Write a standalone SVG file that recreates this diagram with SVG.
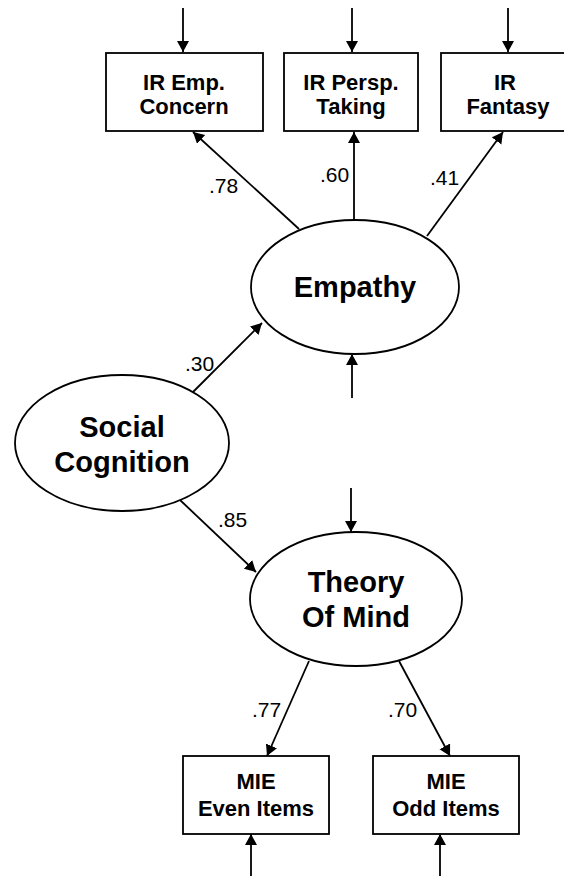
<svg xmlns="http://www.w3.org/2000/svg" width="564" height="876" viewBox="0 0 564 876">
<style>
.box{fill:#fff;stroke:#000;stroke-width:1.8}
.ell{fill:#fff;stroke:#000;stroke-width:1.8}
.bt{font-family:"Liberation Sans",Arial,sans-serif;font-weight:bold;font-size:22px;text-anchor:middle;fill:#000}
.et{font-family:"Liberation Sans",Arial,sans-serif;font-weight:bold;font-size:29px;text-anchor:middle;fill:#000}
.lb{font-family:"Liberation Sans",Arial,sans-serif;font-size:21px;fill:#000}
.ln{stroke:#000;stroke-width:1.8;fill:none;marker-end:url(#ah)}
</style>
<defs>
<marker id="ah" markerUnits="userSpaceOnUse" markerWidth="13" markerHeight="13" refX="11" refY="6" orient="auto">
<path d="M0,0 L11,6 L0,12 z" fill="#000"/>
</marker>
</defs>
<rect width="564" height="876" fill="#fff"/>
<g id="connectors">
<line class="ln" x1="183" y1="8" x2="183" y2="52"/>
<line class="ln" x1="352" y1="8" x2="352" y2="52"/>
<line class="ln" x1="508" y1="8" x2="508" y2="52"/>
<line class="ln" x1="299" y1="229" x2="193" y2="132"/>
<line class="ln" x1="354" y1="220" x2="354" y2="132"/>
<line class="ln" x1="427" y1="236" x2="503" y2="132"/>
<line class="ln" x1="352" y1="398" x2="352" y2="354"/>
<line class="ln" x1="193" y1="392" x2="262" y2="323"/>
<line class="ln" x1="180" y1="500" x2="256" y2="572"/>
<line class="ln" x1="351" y1="488" x2="351" y2="532"/>
<line class="ln" x1="309" y1="661" x2="267" y2="756"/>
<line class="ln" x1="399" y1="661" x2="450" y2="756"/>
<line class="ln" x1="251" y1="876" x2="251" y2="834"/>
<line class="ln" x1="440" y1="876" x2="440" y2="834"/>
<text class="lb" x="209" y="193">.78</text>
<text class="lb" x="320" y="182">.60</text>
<text class="lb" x="430" y="185">.41</text>
<text class="lb" x="185" y="371">.30</text>
<text class="lb" x="218" y="527">.85</text>
<text class="lb" x="252" y="717">.77</text>
<text class="lb" x="388" y="717">.70</text>
</g>
<g id="ir_emp">
<rect class="box" x="106" y="53" width="157" height="78"/>
<text class="bt" x="184" y="90">IR Emp.</text>
<text class="bt" x="184" y="114">Concern</text>
</g>
<g id="ir_persp">
<rect class="box" x="284" y="53" width="134" height="78"/>
<text class="bt" x="351" y="90">IR Persp.</text>
<text class="bt" x="351" y="114">Taking</text>
</g>
<g id="ir_fantasy">
<rect class="box" x="441" y="53" width="134" height="78"/>
<text class="bt" x="505" y="90">IR</text>
<text class="bt" x="508" y="114">Fantasy</text>
</g>
<g id="empathy">
<ellipse class="ell" cx="355" cy="287" rx="104" ry="67"/>
<text class="et" x="355" y="297">Empathy</text>
</g>
<g id="social">
<ellipse class="ell" cx="122" cy="443" rx="107" ry="68"/>
<text class="et" x="122" y="437">Social</text>
<text class="et" x="122" y="472">Cognition</text>
</g>
<g id="tom">
<ellipse class="ell" cx="356" cy="599" rx="106" ry="67"/>
<text class="et" x="356" y="592">Theory</text>
<text class="et" x="356" y="627">Of Mind</text>
</g>
<g id="mie_even">
<rect class="box" x="183" y="756" width="146" height="78"/>
<text class="bt" x="256" y="789">MIE</text>
<text class="bt" x="256" y="816">Even Items</text>
</g>
<g id="mie_odd">
<rect class="box" x="373" y="756" width="146" height="78"/>
<text class="bt" x="446" y="789">MIE</text>
<text class="bt" x="446" y="816">Odd Items</text>
</g>
</svg>
